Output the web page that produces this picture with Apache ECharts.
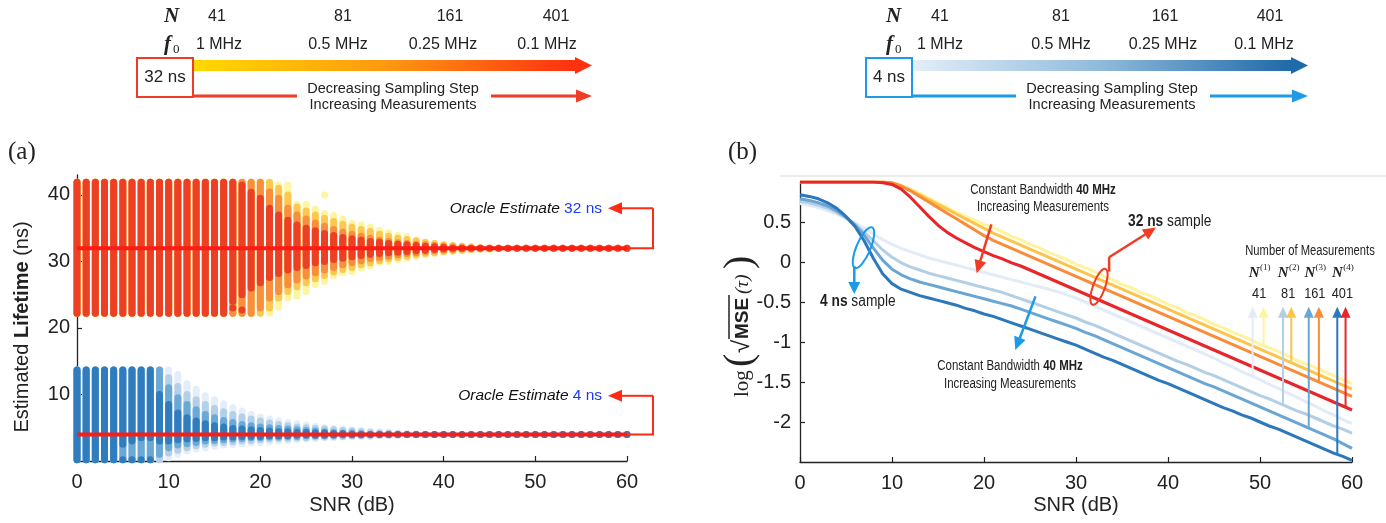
<!DOCTYPE html>
<html>
<head>
<meta charset="utf-8">
<script src="https://cdn.jsdelivr.net/npm/echarts@6/dist/echarts.min.js"></script>
<style>
  html, body { margin: 0; padding: 0; background: #ffffff; }
  #chart { width: 1386px; height: 523px; }
</style>
</head>
<body>
<div id="chart"></div>
<script>
// ---------------- shared SNR grid (dB) ----------------
const snr = [0,1,2,3,4,5,6,7,8,9,10,11,12,13,14,15,16,17,18,19,20,21,22,23,24,25,26,27,28,29,30,
  31,32,33,34,35,36,37,38,39,40,41,42,43,44,45,46,47,48,49,50,51,52,53,54,55,56,57,58,59,60];

// ---------------- (a) spread of lifetime estimates: 32 ns sample ----------------
// lowest / highest estimate (ns) per SNR for each number of measurements N
const est32N41Lo = [22.2,22.2,22.2,22.2,22.2,22.2,22.2,22.2,22.2,22.2,22.2,22.2,22.2,22.2,22.2,22.2,22.2,22.2,22.2,22.2,22.2,22.2,
  23.1,24.5,24.8,25.5,26.5,27,27.8,28.3,28.5,29,29.3,29.8,30,30.3,30.5,30.7,31,31.2,31.4,31.5,31.6,31.7,31.8,31.8,31.9,
  32,32,32,32,32,32,32,32,32,32,32,32,32,32];
const est32N41Hi = [41.9,41.9,41.9,41.9,41.9,41.9,41.9,41.9,41.9,41.9,41.9,41.9,41.9,41.9,41.9,41.9,41.9,41.9,41.9,41.9,41.9,41.9,
  41.5,41.5,38.6,38.6,37.9,37.2,36.9,36.4,35.7,35.5,35.2,34.7,34.3,33.9,33.7,33.2,32.7,32.5,32.4,32.3,32.1,32.1,32,32,32,
  32,32,32,32,32,32,32,32,32,32,32,32,32,32];
const est32N81Lo = [22.2,22.2,22.2,22.2,22.2,22.2,22.2,22.2,22.2,22.2,22.2,22.2,22.2,22.2,22.2,22.2,22.2,22.2,22.2,22.2,22.2,
  23,24.5,25.5,26.2,26.8,27.4,27.9,28.4,28.8,29.1,29.5,29.8,30.1,30.4,30.6,30.8,31,31.2,31.3,31.5,31.6,31.7,31.8,31.9,
  32,32,32,32,32,32,32,32,32,32,32,32,32,32,32,32];
const est32N81Hi = [41.9,41.9,41.9,41.9,41.9,41.9,41.9,41.9,41.9,41.9,41.9,41.9,41.9,41.9,41.9,41.9,41.9,41.9,41.9,41.9,41.9,41.9,
  41,40,38.2,37.6,37,36.5,36,35.6,35.2,34.8,34.5,34.1,33.8,33.5,33.3,33.1,32.9,32.7,32.5,32.4,32.3,32.2,32.1,
  32,32,32,32,32,32,32,32,32,32,32,32,32,32,32,32];
const est32N161Lo = [22.2,22.2,22.2,22.2,22.2,22.2,22.2,22.2,22.2,22.2,22.2,22.2,22.2,22.2,22.2,22.2,22.2,22.2,22.2,22.2,
  23,24.5,25.5,26.5,27.2,27.8,28.3,28.7,29.1,29.5,29.8,30.1,30.4,30.6,30.8,31,31.2,31.3,31.5,31.6,31.7,31.8,31.9,
  32,32,32,32,32,32,32,32,32,32,32,32,32,32,32,32,32,32];
const est32N161Hi = [41.9,41.9,41.9,41.9,41.9,41.9,41.9,41.9,41.9,41.9,41.9,41.9,41.9,41.9,41.9,41.9,41.9,41.9,41.9,41.9,41.9,
  40.5,39.5,38,37,36.4,35.8,35.3,34.8,34.4,34.1,33.8,33.5,33.2,33,32.8,32.7,32.6,32.5,32.4,32.3,32.2,32.1,
  32,32,32,32,32,32,32,32,32,32,32,32,32,32,32,32,32,32];
const est32N401Lo = [22.2,22.2,22.2,22.2,22.2,22.2,22.2,22.2,22.2,22.2,22.2,22.2,22.2,22.2,22.2,22.2,22.2,
  24,25,26,26.8,27.6,28.2,28.7,29.1,29.4,29.8,30,30.3,30.5,30.7,30.9,31.1,31.2,31.3,31.4,31.5,31.6,31.7,31.8,31.9,
  32,32,32,32,32,32,32,32,32,32,32,32,32,32,32,32,32,32,32,32];
const est32N401Hi = [41.9,41.9,41.9,41.9,41.9,41.9,41.9,41.9,41.9,41.9,41.9,41.9,41.9,41.9,41.9,41.9,41.9,41.9,
  41.5,40.4,39.5,38,37,36.2,35.5,35,34.6,34.2,33.9,33.6,33.4,33.2,33,32.9,32.7,32.6,32.5,32.4,32.3,32.2,32.1,
  32,32,32,32,32,32,32,32,32,32,32,32,32,32,32,32,32,32,32,32];
// isolated estimates outside the main columns: [SNR, estimate]
const est32N41Stray = [[27, 40]];
const est32N401Stray = [[17, 23], [18, 22.7]];

// ---------------- (a) spread of lifetime estimates: 4 ns sample ----------------
const est4N41Lo = [0.2,0.2,0.2,0.2,0.2,0.2,0.2,0.2,0.2,0.2,
  0.5,1,1.5,1.8,2,2.2,2.4,2.5,2.6,2.7,2.8,2.9,3,3.1,3.2,3.3,3.4,3.5,3.5,3.6,3.6,3.7,3.7,3.8,3.8,3.9,3.9,3.9,
  4,4,4,4,4,4,4,4,4,4,4,4,4,4,4,4,4,4,4,4,4,4,4];
const est4N41Hi = [13.7,13.7,13.7,13.7,13.7,13.7,13.7,13.7,13.7,13.7,13.7,
  13,11.6,10.8,9.8,9.2,8.6,8,7.5,7,6.6,6.3,6,5.8,5.6,5.4,5.2,5,4.9,4.8,4.7,4.6,4.5,4.4,4.3,4.2,4.2,4.1,
  4,4,4,4,4,4,4,4,4,4,4,4,4,4,4,4,4,4,4,4,4,4,4];
const est4N81Lo = [0.2,0.2,0.2,0.2,0.2,0.2,0.2,0.2,0.2,0.2,
  1.2,1.6,2,2.3,2.5,2.7,2.8,2.9,3,3.1,3.2,3.3,3.4,3.4,3.5,3.5,3.6,3.6,3.7,3.7,3.8,3.8,3.8,3.9,3.9,3.9,
  4,4,4,4,4,4,4,4,4,4,4,4,4,4,4,4,4,4,4,4,4,4,4,4,4];
const est4N81Hi = [13.7,13.7,13.7,13.7,13.7,13.7,13.7,13.7,13.7,13.7,
  12.5,11.2,10,9.2,8.5,7.9,7.4,7,6.6,6.3,6,5.7,5.5,5.3,5.1,5,4.9,4.8,4.7,4.6,4.5,4.4,4.3,4.2,4.2,4.1,
  4,4,4,4,4,4,4,4,4,4,4,4,4,4,4,4,4,4,4,4,4,4,4,4,4];
const est4N161Lo = [0.2,0.2,0.2,0.2,0.2,0.2,0.2,0.2,0.2,
  1,2,2.4,2.6,2.8,3,3.1,3.2,3.3,3.4,3.5,3.5,3.6,3.6,3.7,3.7,3.8,3.8,3.8,3.9,3.9,3.9,3.9,
  4,4,4,4,4,4,4,4,4,4,4,4,4,4,4,4,4,4,4,4,4,4,4,4,4,4,4,4,4];
const est4N161Hi = [13.7,13.7,13.7,13.7,13.7,13.7,13.7,13.7,13.7,13.7,
  11,9.5,8.5,7.7,7,6.5,6.1,5.8,5.5,5.3,5.1,5,4.9,4.8,4.7,4.6,4.5,4.4,4.3,4.2,4.2,4.1,
  4,4,4,4,4,4,4,4,4,4,4,4,4,4,4,4,4,4,4,4,4,4,4,4,4,4,4,4,4];
const est4N401Lo = [0.2,0.2,0.2,0.2,0.2,
  2.5,3,3.5,3.5,3,3,3.2,3.3,3.4,3.5,3.5,3.6,3.6,3.7,3.7,3.7,3.8,3.8,3.8,3.9,3.9,3.9,3.9,3.9,
  4,4,4,4,4,4,4,4,4,4,4,4,4,4,4,4,4,4,4,4,4,4,4,4,4,4,4,4,4,4,4,4];
const est4N401Hi = [13.7,13.7,13.7,13.7,13.7,13.7,13.7,13.7,13.7,
  10,8.5,7.2,6.5,6,5.6,5.3,5.1,4.9,4.8,4.7,4.6,4.5,4.4,4.4,4.3,4.3,4.2,4.2,4.1,4.1,
  4,4,4,4,4,4,4,4,4,4,4,4,4,4,4,4,4,4,4,4,4,4,4,4,4,4,4,4,4,4,4];
const est4N401Stray = [[5, 0.2], [6, 0.2], [7, 0.2], [8, 0.2]];

// oracle (true) lifetimes, ns
const oracle32 = 32;
const oracle4 = 4;

// ---------------- (b) log10 sqrt(MSE) of the lifetime estimate ----------------
const mse32N41 = [1,1,1,1,1,1,1,1,1,1,0.99,0.96,0.91,0.86,0.8,0.74,0.68,0.62,0.57,0.52,0.47,
  0.43,0.38,0.32,0.28,0.22,0.18,0.12,0.08,0.03,-0.03,-0.07,-0.12,-0.18,-0.22,-0.28,-0.32,-0.38,-0.42,-0.47,-0.53,
  -0.57,-0.63,-0.67,-0.72,-0.78,-0.82,-0.88,-0.92,-0.97,-1.03,-1.07,-1.12,-1.17,-1.23,-1.27,-1.32,-1.37,-1.42,-1.47,-1.52];
const mse32N81 = [1,1,1,1,1,1,1,1,1,1,0.99,0.95,0.9,0.84,0.78,0.72,0.66,0.6,0.54,0.48,0.42,
  0.36,0.31,0.26,0.21,0.16,0.11,0.06,0.01,-0.04,-0.09,-0.14,-0.19,-0.24,-0.29,-0.34,-0.39,-0.44,-0.49,-0.54,-0.59,
  -0.64,-0.69,-0.74,-0.79,-0.84,-0.89,-0.94,-0.99,-1.04,-1.09,-1.14,-1.19,-1.24,-1.29,-1.34,-1.39,-1.44,-1.49,-1.54,-1.59];
const mse32N161 = [1,1,1,1,1,1,1,1,1,1,0.99,0.95,0.89,0.82,0.75,0.68,0.61,0.54,0.47,0.4,0.33,
  0.27,0.22,0.17,0.12,0.07,0.02,-0.03,-0.08,-0.13,-0.18,-0.23,-0.28,-0.33,-0.38,-0.43,-0.48,-0.53,-0.58,-0.63,-0.68,
  -0.73,-0.78,-0.83,-0.88,-0.93,-0.98,-1.03,-1.08,-1.13,-1.18,-1.23,-1.28,-1.33,-1.38,-1.43,-1.48,-1.53,-1.58,-1.63,-1.68];
const mse32N401 = [1,1,1,1,1,1,1,1,1,0.99,0.97,0.91,0.81,0.69,0.57,0.46,0.37,0.3,0.24,0.18,0.13,
  0.08,0.04,-0.01,-0.05,-0.1,-0.15,-0.2,-0.25,-0.3,-0.35,-0.4,-0.45,-0.5,-0.55,-0.6,-0.65,-0.7,-0.75,-0.8,-0.85,
  -0.9,-0.95,-1,-1.05,-1.1,-1.15,-1.2,-1.25,-1.3,-1.35,-1.4,-1.45,-1.5,-1.55,-1.6,-1.65,-1.7,-1.75,-1.8,-1.85];
const mse4N41 = [0.73,0.71,0.68,0.64,0.6,0.55,0.49,0.42,0.35,0.28,0.22,0.17,0.13,0.09,0.05,0.02,-0.01,-0.04,-0.07,-0.1,-0.13,
  -0.16,-0.19,-0.22,-0.25,-0.28,-0.31,-0.34,-0.37,-0.41,-0.45,-0.5,-0.55,-0.6,-0.65,-0.7,-0.75,-0.8,-0.85,-0.9,-0.95,
  -1,-1.05,-1.1,-1.15,-1.2,-1.26,-1.31,-1.37,-1.42,-1.47,-1.53,-1.58,-1.64,-1.69,-1.75,-1.8,-1.86,-1.91,-1.97,-2.02];
const mse4N81 = [0.76,0.74,0.71,0.67,0.62,0.55,0.47,0.37,0.26,0.15,0.06,-0.01,-0.06,-0.1,-0.14,-0.17,-0.2,-0.23,-0.26,-0.29,-0.32,
  -0.35,-0.38,-0.42,-0.46,-0.5,-0.54,-0.58,-0.62,-0.66,-0.7,-0.75,-0.79,-0.84,-0.89,-0.94,-0.99,-1.04,-1.09,-1.14,-1.19,
  -1.24,-1.28,-1.33,-1.38,-1.42,-1.47,-1.52,-1.57,-1.62,-1.67,-1.71,-1.76,-1.81,-1.86,-1.9,-1.95,-2,-2.05,-2.09,-2.14];
const mse4N161 = [0.79,0.77,0.74,0.7,0.64,0.56,0.46,0.33,0.17,0.02,-0.09,-0.16,-0.21,-0.25,-0.28,-0.31,-0.34,-0.37,-0.4,-0.43,-0.46,
  -0.49,-0.52,-0.55,-0.59,-0.63,-0.67,-0.71,-0.75,-0.79,-0.83,-0.88,-0.92,-0.97,-1.02,-1.07,-1.12,-1.17,-1.22,-1.27,-1.32,
  -1.37,-1.42,-1.47,-1.52,-1.56,-1.61,-1.66,-1.71,-1.76,-1.81,-1.86,-1.91,-1.96,-2.01,-2.06,-2.11,-2.16,-2.21,-2.27,-2.33];
const mse4N401 = [0.84,0.82,0.79,0.74,0.67,0.57,0.44,0.26,0.04,-0.15,-0.27,-0.34,-0.38,-0.42,-0.45,-0.48,-0.51,-0.54,-0.58,-0.61,-0.65,
  -0.68,-0.72,-0.76,-0.8,-0.84,-0.88,-0.92,-0.96,-1,-1.04,-1.09,-1.14,-1.19,-1.23,-1.28,-1.33,-1.38,-1.43,-1.48,-1.52,
  -1.57,-1.62,-1.67,-1.72,-1.77,-1.82,-1.86,-1.91,-1.95,-2,-2.05,-2.09,-2.14,-2.19,-2.24,-2.29,-2.34,-2.39,-2.43,-2.48];

// measurement counts and sampling frequencies shown in the headers
const measurementCounts = ['41', '81', '161', '401'];
const samplingFreqs = ['1 MHz', '0.5 MHz', '0.25 MHz', '0.1 MHz'];
// SNR positions where the "Number of Measurements" key arrows rise from each curve
const keyArrowSnr4 = [49.2, 52.5, 55.3, 58.4];
const keyArrowSnr32 = [50.4, 53.4, 56.4, 59.3];

// ---------------- colours ----------------
const warm = ['#fdf5a0', '#fdc850', '#f98e3b', '#ec3f24'];
const warmLine = ['#fff3a0', '#fdc44c', '#f98c39', '#e8252a'];
const cool = ['#e4edf8', '#b4d0e8', '#6aa8d6', '#2f7dbf'];
const coolLine = ['#e2ebf6', '#b3cfe5', '#6aa6d4', '#2c78ba'];
const SANS = "'Liberation Sans', Arial, Helvetica, sans-serif";
const SERIF = "'Liberation Serif', 'DejaVu Serif', serif";
const INK = '#222222';

// ---------------- helpers ----------------
function ranges(lo, hi) {
  return snr.map((s, i) => [s, lo[i], hi[i]]);
}
function strays(list) {
  return list.map(p => [p[0], p[1], p[1]]);
}
// vertical column of overlapping estimate dots, drawn as a rounded capsule
function renderColumn(params, api) {
  const x = api.value(0), lo = api.value(1), hi = api.value(2);
  const top = api.coord([x, hi]);
  const bot = api.coord([x, lo]);
  const w = 7;
  return {
    type: 'rect',
    shape: { x: top[0] - w / 2, y: top[1] - w / 2, width: w, height: bot[1] - top[1] + w, r: w / 2 },
    style: { fill: api.visual('color') }
  };
}
function columnSeries(name, data, color) {
  return {
    name, type: 'custom', xAxisIndex: 0, yAxisIndex: 0,
    renderItem: renderColumn, data, itemStyle: { color }, silent: true,
    encode: { x: 0, y: [1, 2] }
  };
}
function mseSeries(name, values, color) {
  return {
    name, type: 'line', xAxisIndex: 1, yAxisIndex: 1,
    data: snr.map((s, i) => [s, values[i]]),
    symbol: 'none', lineStyle: { color, width: 3 }, itemStyle: { color }, silent: true
  };
}

const axisCommon = {
  axisLine: { show: true, onZero: false, lineStyle: { color: INK, width: 1.3 } },
  axisTick: { show: true, inside: true, length: 5, lineStyle: { color: INK, width: 1.2 } },
  splitLine: { show: false },
  axisLabel: { color: INK, fontSize: 20, fontFamily: SANS }
};

const series = [
  columnSeries('32ns N41', ranges(est32N41Lo, est32N41Hi).concat(strays(est32N41Stray)), warm[0]),
  columnSeries('32ns N81', ranges(est32N81Lo, est32N81Hi), warm[1]),
  columnSeries('32ns N161', ranges(est32N161Lo, est32N161Hi), warm[2]),
  columnSeries('32ns N401', ranges(est32N401Lo, est32N401Hi).concat(strays(est32N401Stray)), warm[3]),
  columnSeries('4ns N41', ranges(est4N41Lo, est4N41Hi), cool[0]),
  columnSeries('4ns N81', ranges(est4N81Lo, est4N81Hi), cool[1]),
  columnSeries('4ns N161', ranges(est4N161Lo, est4N161Hi), cool[2]),
  columnSeries('4ns N401', ranges(est4N401Lo, est4N401Hi).concat(strays(est4N401Stray)), cool[3]),
  {
    name: 'oracle 32', type: 'line', xAxisIndex: 0, yAxisIndex: 0, z: 5,
    data: [[snr[0], oracle32], [snr[snr.length - 1], oracle32]],
    symbol: 'none', lineStyle: { color: '#ff1a12', width: 4 }, silent: true
  },
  {
    name: 'oracle 4', type: 'line', xAxisIndex: 0, yAxisIndex: 0, z: 5,
    data: [[snr[0], oracle4], [snr[snr.length - 1], oracle4]],
    symbol: 'none', lineStyle: { color: '#ff1a12', width: 4 }, silent: true
  },
  mseSeries('4ns N41', mse4N41, coolLine[0]),
  mseSeries('4ns N81', mse4N81, coolLine[1]),
  mseSeries('4ns N161', mse4N161, coolLine[2]),
  mseSeries('4ns N401', mse4N401, coolLine[3]),
  mseSeries('32ns N41', mse32N41, warmLine[0]),
  mseSeries('32ns N81', mse32N81, warmLine[1]),
  mseSeries('32ns N161', mse32N161, warmLine[2]),
  mseSeries('32ns N401', mse32N401, warmLine[3])
];

const chart = echarts.init(document.getElementById('chart'));
chart.setOption({
  animation: false,
  backgroundColor: '#ffffff',
  grid: [
    { left: 77, top: 175, width: 550, height: 286 },
    { left: 800, top: 182, width: 552, height: 280 }
  ],
  xAxis: [
    Object.assign({}, axisCommon, { gridIndex: 0, type: 'value', min: 0, max: 60, interval: 10,
      axisLabel: Object.assign({}, axisCommon.axisLabel, { margin: 11 }) }),
    Object.assign({}, axisCommon, { gridIndex: 1, type: 'value', min: 0, max: 60, interval: 10,
      axisLabel: Object.assign({}, axisCommon.axisLabel, { margin: 11 }) })
  ],
  yAxis: [
    Object.assign({}, axisCommon, { gridIndex: 0, type: 'value', min: 0, max: 43, interval: 10,
      axisLabel: Object.assign({}, axisCommon.axisLabel, { margin: 7, showMinLabel: false, showMaxLabel: false }) }),
    Object.assign({}, axisCommon, { gridIndex: 1, type: 'value', min: -2.5, max: 1, interval: 0.5,
      axisLabel: Object.assign({}, axisCommon.axisLabel, { margin: 9, showMinLabel: false, showMaxLabel: false }) })
  ],
  series
});

// ---------------- annotations ----------------
const g = [];
function text(x, y, str, o) {
  o = o || {};
  g.push({
    type: 'text', x, y, z: 100, rotation: o.rotation || 0, scaleX: o.sx || 1,
    style: Object.assign({
      text: str, fill: o.color || INK, font: o.font || ('15px ' + SANS),
      textAlign: o.align || 'center', textVerticalAlign: o.valign || 'middle'
    }, o.rich ? { rich: o.rich } : {})
  });
}
// condensed label (horizontally squeezed sans)
function narrow(x, y, str, size, o) {
  o = Object.assign({ sx: 0.82 }, o || {});
  if (str.indexOf('{') >= 0) {
    o.rich = { n: { font: size + 'px ' + SANS, fill: INK }, b: { font: 'bold ' + size + 'px ' + SANS, fill: INK } };
  } else {
    o.font = size + 'px ' + SANS;
  }
  text(x, y, str, o);
}
function poly(points, color, width) {
  g.push({ type: 'polyline', z: 100, shape: { points }, style: { stroke: color, lineWidth: width, fill: null } });
}
// arrow from a to b with a filled head at b
function arrow(a, b, color, width, len, half) {
  const dx = b[0] - a[0], dy = b[1] - a[1];
  const d = Math.hypot(dx, dy), ux = dx / d, uy = dy / d;
  const bx = b[0] - ux * len, by = b[1] - uy * len;
  poly([a, [bx + ux * 1, by + uy * 1]], color, width);
  g.push({ type: 'polygon', z: 101, shape: { points: [b, [bx - uy * half, by + ux * half], [bx + uy * half, by - ux * half]] },
    style: { fill: color } });
}
function polyArrow(points, color, width, len, half) {
  const n = points.length;
  if (n > 2) poly(points.slice(0, n - 1), color, width);
  arrow(points[n - 2], points[n - 1], color, width, len, half);
}
function rectBox(x, y, w, h, color) {
  g.push({ type: 'rect', z: 100, shape: { x, y, width: w, height: h }, style: { stroke: color, lineWidth: 2, fill: '#ffffff' } });
}
function ellipse(cx, cy, rx, ry, rot, color) {
  g.push({ type: 'ellipse', z: 102, x: cx, y: cy, rotation: rot, shape: { cx: 0, cy: 0, rx, ry },
    style: { stroke: color, lineWidth: 2, fill: null } });
}
const pa = p => chart.convertToPixel({ gridIndex: 0 }, p);
const pb = p => chart.convertToPixel({ gridIndex: 1 }, p);

// header above each panel: N, f0 and the sampling-step arrows
function header(x0, nx, fx, boxX, boxW, tag, barEnd, lineColor, gradStops, txtCx) {
  text(x0, 17, 'N', { font: 'italic bold 21px ' + SERIF, align: 'left' });
  text(x0, 45, 'f', { font: 'italic bold 21px ' + SERIF, align: 'left' });
  text(x0 + 9, 50, '0', { font: '13px ' + SERIF, align: 'left' });
  measurementCounts.forEach((t, i) => text(nx[i], 17, t, { font: '16px ' + SANS }));
  samplingFreqs.forEach((t, i) => text(fx[i], 45, t, { font: '16px ' + SANS }));
  const barStart = boxX + boxW;
  g.push({ type: 'rect', z: 99, shape: { x: barStart, y: 60, width: barEnd - barStart, height: 11 },
    style: { fill: new echarts.graphic.LinearGradient(0, 0, 1, 0, gradStops) } });
  g.push({ type: 'polygon', z: 99, shape: { points: [[barEnd, 57], [barEnd + 17, 65.5], [barEnd, 74]] },
    style: { fill: gradStops[gradStops.length - 1].color } });
  rectBox(boxX, 58, boxW, 39, lineColor);
  text(boxX + boxW / 2, 77.5, tag, { font: '17px ' + SANS });
  poly([[barStart, 96], [txtCx - 96, 96]], lineColor, 3);
  arrow([txtCx + 98, 96], [barEnd + 17, 96], lineColor, 3, 16, 6.5);
  text(txtCx, 89, 'Decreasing Sampling Step', { font: '14.5px ' + SANS });
  text(txtCx, 105, 'Increasing Measurements', { font: '14.5px ' + SANS });
}
header(164, [217, 343, 450, 556], [219, 338, 443, 547], 137, 56, '32 ns', 575, '#f03c24',
  [{ offset: 0, color: '#ffd900' }, { offset: 0.5, color: '#ff9a10' }, { offset: 1, color: '#ff3010' }], 393);
header(886, [940, 1061, 1165, 1270], [940, 1061, 1163, 1264], 866, 46, '4 ns', 1291, '#1e9be8',
  [{ offset: 0, color: '#e4eef8' }, { offset: 0.5, color: '#8fbadb' }, { offset: 1, color: '#1f6aa8' }], 1112);

// panel letters and axis titles
text(8, 152, '(a)', { font: '25px ' + SERIF, align: 'left' });
text(728, 152, '(b)', { font: '25px ' + SERIF, align: 'left' });
text(352, 505, 'SNR (dB)', { font: '20px ' + SANS });
text(1076, 505, 'SNR (dB)', { font: '20px ' + SANS });
text(22, 327, '{n|Estimated }{b|Lifetime}{n| (ns)}', {
  rotation: Math.PI / 2,
  rich: { n: { font: '20px ' + SANS, fill: INK }, b: { font: 'bold 20px ' + SANS, fill: INK } }
});
// y title of (b): log( sqrt(MSE(tau)) )
g.push({
  type: 'group', x: 742, y: 324, rotation: Math.PI / 2, z: 100,
  children: [
    { type: 'text', x: -73, y: 0, style: { text: 'log', font: '21px ' + SERIF, fill: INK, textVerticalAlign: 'middle' } },
    { type: 'text', x: -43, y: -2, style: { text: '(', font: '40px ' + SERIF, fill: INK, textVerticalAlign: 'middle' } },
    { type: 'text', x: -29, y: 0, style: { text: '\u221A', font: '24px ' + SANS, fill: INK, textVerticalAlign: 'middle' } },
    { type: 'line', shape: { x1: -15, y1: -13, x2: 29, y2: -13 }, style: { stroke: INK, lineWidth: 1.5 } },
    { type: 'text', x: -15, y: 1, style: { text: 'MSE', font: 'bold 19px ' + SANS, fill: INK, textVerticalAlign: 'middle' } },
    { type: 'text', x: 30, y: 1, style: { text: '(\u03C4)', font: 'italic 19px ' + SERIF, fill: INK, textVerticalAlign: 'middle' } },
    { type: 'text', x: 55, y: -2, style: { text: ')', font: '40px ' + SERIF, fill: INK, textVerticalAlign: 'middle' } }
  ]
});

// faint frame line along the top of (b)
g.push({ type: 'line', z: 1, shape: { x1: 780, y1: 176, x2: 1386, y2: 176 }, style: { stroke: '#e6e6e6', lineWidth: 1.5 } });

// oracle estimate callouts in (a)
const ORANGE_RED = '#ff2a14';
[[oracle32, 38], [oracle4, 9.8]].forEach(([v, tv]) => {
  const e = pa([snr[snr.length - 1], v]);
  const t = pa([snr[snr.length - 1], tv]);
  polyArrow([[e[0], e[1]], [653, e[1]], [653, t[1]], [608, t[1]]], ORANGE_RED, 2, 14, 6);
  text(602, t[1], '{i|Oracle Estimate} {b|' + v + ' ns}', {
    align: 'right',
    rich: { i: { font: 'italic 15.5px ' + SANS, fill: '#111' }, b: { font: '15.5px ' + SANS, fill: '#1b3cf0' } }
  });
});

// (b) annotations
const RED = '#f03c24', BLUE = '#1a9ae8';
narrow(1043, 190, '{n|Constant Bandwidth }{b|40 MHz}', 14);
narrow(1043, 207, 'Increasing Measurements', 14);
arrow(pb([20.8, 0.47]), pb([19.2, -0.14]), RED, 2.5, 13, 6);
narrow(1128, 222, '{b|32 ns}{n| sample}', 16, { align: 'left', sx: 0.86 });
const ec = pb([32.5, -0.31]);
ellipse(ec[0], ec[1], 6, 19, -0.35, RED);
polyArrow([pb([33.6, -0.12]), pb([33.6, 0.06]), pb([38.7, 0.43])], RED, 2.5, 13, 6);
const bc = pb([6.9, 0.18]);
ellipse(bc[0], bc[1], 7, 22, -0.4, BLUE);
arrow(pb([5.9, -0.05]), pb([5.9, -0.4]), BLUE, 2.5, 12, 6);
narrow(820, 302, '{b|4 ns}{n| sample}', 16, { align: 'left', sx: 0.86 });
arrow(pb([25.6, -0.43]), pb([23.4, -1.1]), BLUE, 2.5, 13, 6);
narrow(1010, 366, '{n|Constant Bandwidth }{b|40 MHz}', 14);
narrow(1010, 384, 'Increasing Measurements', 14);

// number-of-measurements key with arrows rising from each curve
narrow(1310, 251, 'Number of Measurements', 14, { sx: 0.8 });
const keyTop = -0.56;
function valueAt(values, s) {
  const i = Math.min(Math.floor(s), snr.length - 2), f = s - i;
  return values[i] * (1 - f) + values[i + 1] * f;
}
const mse4 = [mse4N41, mse4N81, mse4N161, mse4N401];
const mse32 = [mse32N41, mse32N81, mse32N161, mse32N401];
measurementCounts.forEach((t, i) => {
  const a = pb([keyArrowSnr4[i], keyTop]);
  const b = pb([keyArrowSnr32[i], keyTop]);
  const cx = (a[0] + b[0]) / 2 + 1;
  text(cx - 5, 273, 'N', { font: 'italic bold 15px ' + SERIF });
  text(cx + 6, 268, '(' + (i + 1) + ')', { font: '9px ' + SERIF });
  narrow(cx, 294, t, 15, { sx: 0.85 });
  arrow(pb([keyArrowSnr4[i], valueAt(mse4[i], keyArrowSnr4[i])]), a, coolLine[i], 2, 11, 5);
  arrow(pb([keyArrowSnr32[i], valueAt(mse32[i], keyArrowSnr32[i])]), b, warmLine[i], 2, 11, 5);
});

chart.setOption({ graphic: { elements: g } });
</script>
</body>
</html>
